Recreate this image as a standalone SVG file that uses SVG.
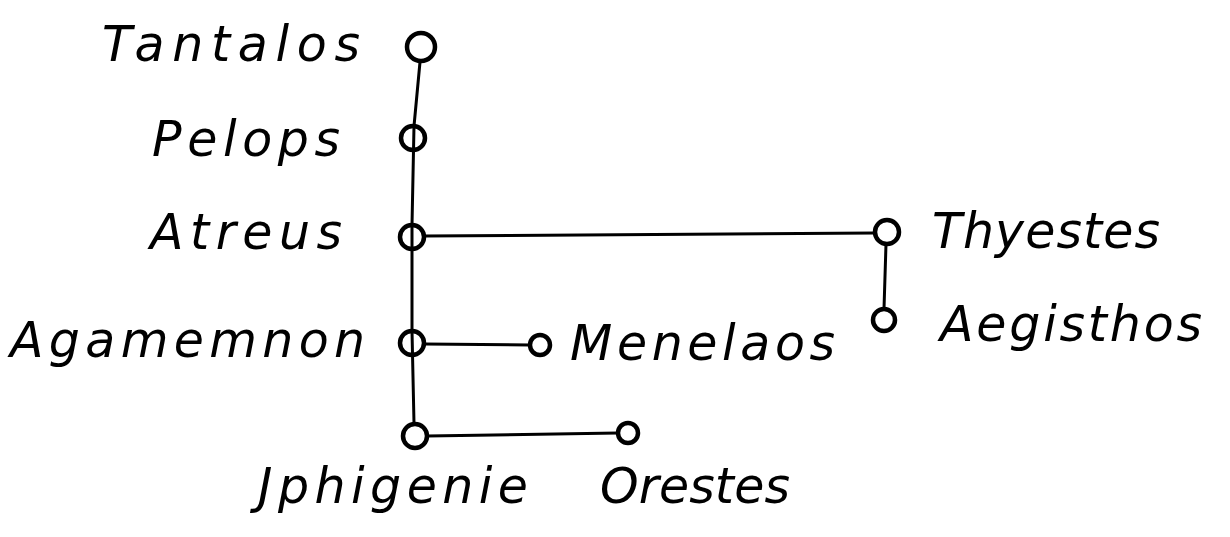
<svg xmlns="http://www.w3.org/2000/svg" width="1230" height="537" viewBox="0 0 1230 537">
<style>
.n{fill:none;stroke:#000;stroke-width:4.5}
.c{fill:none;stroke:#000;stroke-width:3;stroke-linecap:round}
.t{font-family:"DejaVu Sans","Liberation Sans",sans-serif;font-style:oblique;font-size:49px;fill:#000}
</style>
<rect width="1230" height="537" fill="#fff"/>
<g id="connectors">
<path class="c" d="M420 62 L414 126 L412 225 L412 331 L414 423"/>
<path class="c" d="M424 236 L875 233"/>
<path class="c" d="M886 244 L884 309"/>
<path class="c" d="M424 344 L530 345"/>
<path class="c" d="M427 436 L618 433"/>
</g>
<g id="tantalos"><circle class="n" cx="421" cy="47" r="14" stroke-width="6"/><text class="t" x="102" y="61" textLength="258" lengthAdjust="spacing">Tantalos</text></g>
<g id="pelops"><circle class="n" cx="413" cy="138" r="12"/><text class="t" x="152" y="156" textLength="188" lengthAdjust="spacing">Pelops</text></g>
<g id="atreus"><circle class="n" cx="412" cy="237" r="12"/><text class="t" x="150" y="249" textLength="192" lengthAdjust="spacing">Atreus</text></g>
<g id="thyestes"><circle class="n" cx="887" cy="232" r="12"/><text class="t" x="932" y="248" textLength="228" lengthAdjust="spacing">Thyestes</text></g>
<g id="aegisthos"><circle class="n" cx="884" cy="320" r="11"/><text class="t" x="940" y="341" textLength="262" lengthAdjust="spacing">Aegisthos</text></g>
<g id="agamemnon"><circle class="n" cx="412" cy="343" r="12"/><text class="t" x="10" y="357" textLength="355" lengthAdjust="spacing">Agamemnon</text></g>
<g id="menelaos"><circle class="n" cx="540" cy="345" r="10"/><text class="t" x="570" y="360" textLength="265" lengthAdjust="spacing">Menelaos</text></g>
<g id="iphigenie"><circle class="n" cx="415" cy="436" r="12"/><text class="t" x="258" y="503" textLength="270" lengthAdjust="spacing">Jphigenie</text></g>
<g id="orestes"><circle class="n" cx="628" cy="433" r="10"/><text class="t" x="600" y="503" textLength="190" lengthAdjust="spacing">Orestes</text></g>
</svg>
